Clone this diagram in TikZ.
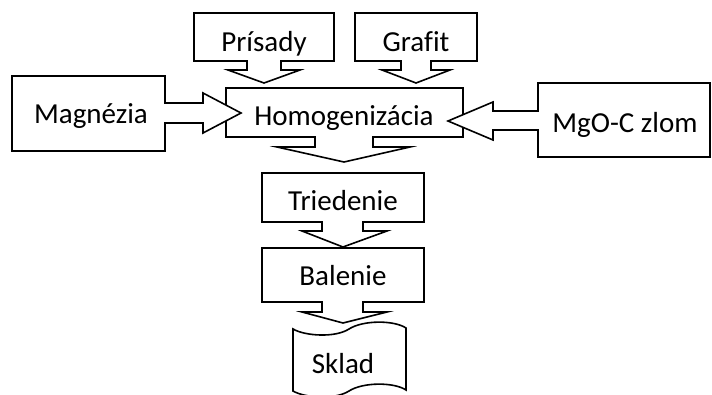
\documentclass[tikz,border=0pt]{standalone}
\usepackage{fontspec}
\setmainfont{Carlito}[Ligatures=NoCommon]
\begin{document}
\begin{tikzpicture}[x=1pt,y=-1pt,
  shp/.style={draw=black,line width=1.6pt,fill=white,line join=miter},
  lbl/.style={anchor=base,inner sep=0pt,font=\fontsize{29}{33}\selectfont}]
\useasboundingbox (0,0) rectangle (712,394);
\begin{scope}
\clip (0,0) rectangle (712,394);
% Homogenizacia (down arrow callout)
\draw[shp] (226,88) -- (463,88) -- (463,137) -- (373,137) -- (373,147) -- (410,147) -- (344,162) -- (277,147) -- (315,147) -- (315,137) -- (226,137) -- cycle;
% Prisady
\draw[shp] (194,13) -- (334,13) -- (334,61) -- (281,61) -- (281,70) -- (300,70) -- (264,83) -- (228,70) -- (247,70) -- (247,61) -- (194,61) -- cycle;
% Grafit
\draw[shp] (355,13) -- (477,13) -- (477,61) -- (431,61) -- (431,70) -- (450,70) -- (416,83) -- (382,70) -- (401,70) -- (401,61) -- (355,61) -- cycle;
% Magnezia (right arrow callout)
\draw[shp] (12,76) -- (165,76) -- (165,103) -- (203,103) -- (203,93) -- (241,113) -- (203,133) -- (203,123) -- (165,123) -- (165,151) -- (12,151) -- cycle;
% MgO-C zlom (left arrow callout)
\draw[shp] (710,83) -- (538,83) -- (538,111) -- (493,111) -- (493,102) -- (448,121) -- (493,140) -- (493,130) -- (538,130) -- (538,157) -- (710,157) -- cycle;
% Triedenie
\draw[shp] (262,173) -- (424,173) -- (424,222) -- (363,222) -- (363,231) -- (387,231) -- (343,247) -- (302,231) -- (322,231) -- (322,222) -- (262,222) -- cycle;
% Balenie
\draw[shp] (262,248) -- (424,248) -- (424,302) -- (363,302) -- (363,312) -- (387,312) -- (343,323) -- (302,312) -- (322,312) -- (322,302) -- (262,302) -- cycle;
% Sklad (punched tape)
\draw[shp] (293,329) .. controls (305,336) and (335,338) .. (349,329) .. controls (363,320) and (394,320) .. (406,328)
  -- (406,390) .. controls (394,382) and (363,382) .. (349,391) .. controls (335,400) and (305,398) .. (293,391) -- cycle;
\end{scope}
\node[lbl] (hom) at (344,125) {Homogenizácia};
\node[lbl] (pri) at (264,51) {Prísady};
\node[lbl] (gra) at (416,51) {Grafit};
\node[lbl] (mag) at (91,123) {Magnézia};
\node[lbl] (mgo) at (625,132) {MgO-C zlom};
\node[lbl] (tri) at (343,210) {Triedenie};
\node[lbl] (bal) at (343,285) {Balenie};
\node[lbl] (skl) at (343,373) {Sklad};
\end{tikzpicture}
\end{document}
